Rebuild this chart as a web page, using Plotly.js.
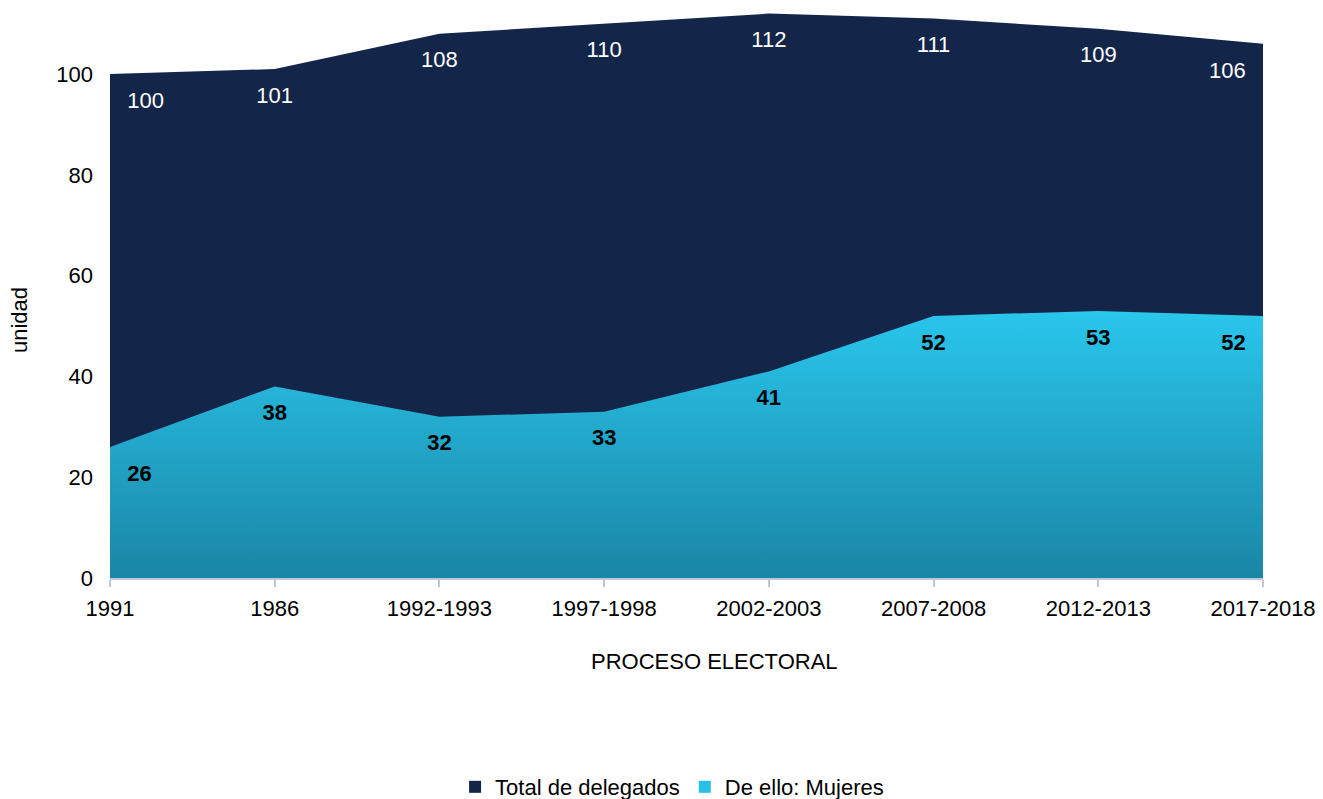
<!DOCTYPE html>
<html>
<head>
<meta charset="utf-8">
<script src="https://cdn.plot.ly/plotly-3.0.1.min.js"></script>
<style>html,body{margin:0;padding:0;background:#fff;}#chart{width:1323px;height:799px;}</style>
</head>
<body>
<div id="chart"></div>
<script>
const categories = ["1991","1986","1992-1993","1997-1998","2002-2003","2007-2008","2012-2013","2017-2018"];
const totalDelegados = [100,101,108,110,112,111,109,106];
const mujeres = [26,38,32,33,41,52,53,52];
const seriesNames = ["Total de delegados","De ello: Mujeres"];

function positions(n){
  return categories.map((c,i)=> i===0 ? "bottom right" : (i===n-1 ? "bottom left" : "bottom center"));
}

const FAM = "Liberation Sans, Arial, sans-serif";
const hiddenMarker = {size:26, color:"rgba(0,0,0,0)"};

const traces = [
  {
    type:"scatter", mode:"lines+markers+text", x:categories, y:totalDelegados,
    fill:"tozeroy", fillcolor:"#13264a", line:{width:0, color:"#13264a"},
    marker:hiddenMarker,
    text:totalDelegados.map(String), textposition:positions(categories.length),
    textfont:{family:FAM, size:22, color:"#ffffff"},
    showlegend:false, hoverinfo:"skip", cliponaxis:false
  },
  {
    type:"scatter", mode:"lines+markers+text", x:categories, y:mujeres,
    fill:"tozeroy",
    fillgradient:{type:"vertical", colorscale:[[0,"#1a86a6"],[1,"#2ac6ec"]]},
    line:{width:0, color:"#27c0e6"},
    marker:hiddenMarker,
    text:mujeres.map(v=>"<b>"+v+"</b>"), textposition:positions(categories.length),
    textfont:{family:FAM, size:22, color:"#000000"},
    showlegend:false, hoverinfo:"skip", cliponaxis:false
  },
  {
    type:"scatter", mode:"markers", x:[null], y:[null], name:seriesNames[0],
    marker:{symbol:"square", size:13, color:"#13264a"}, showlegend:true
  },
  {
    type:"scatter", mode:"markers", x:[null], y:[null], name:seriesNames[1],
    marker:{symbol:"square", size:13, color:"#27bfe4"}, showlegend:true
  }
];

const font = {family:FAM, size:22, color:"#000"};

const layout = {
  width:1323, height:799,
  margin:{l:110, r:60, t:4, b:221, autoexpand:false},
  paper_bgcolor:"#fff", plot_bgcolor:"#fff",
  font:font,
  showlegend:true,
  legend:{orientation:"h", xref:"container", yref:"container", x:0.508, xanchor:"center", y:0.015, yanchor:"middle",
          font:{family:FAM, size:22, color:"#000"},
          itemsizing:"constant", tracegroupgap:0, itemwidth:30},
  xaxis:{
    type:"category", range:[0,7], showgrid:false, zeroline:false,
    showline:true, linecolor:"#bcc6d6", linewidth:2,
    ticks:"outside", ticklen:7, tickcolor:"#bcc6d6", tickwidth:2,
    tickfont:font, ticklabelstandoff:3, fixedrange:true
  },
  yaxis:{
    range:[0,113.9], showgrid:false, zeroline:false, showline:false,
    tickvals:[0,20,40,60,80,100], ticks:"", ticklen:0, ticklabelstandoff:16,
    tickfont:font, fixedrange:true
  },
  annotations:[
    {text:"PROCESO ELECTORAL", xref:"paper", yref:"paper", x:0.524, y:-0.1446, xanchor:"center", yanchor:"middle", showarrow:false, font:font},
    {text:"unidad", xref:"paper", yref:"paper", x:-0.078, y:0.4495, xanchor:"center", yanchor:"middle", textangle:-90, showarrow:false, font:font}
  ]
};

Plotly.newPlot("chart", traces, layout, {displayModeBar:false, staticPlot:true});
</script>
</body>
</html>
